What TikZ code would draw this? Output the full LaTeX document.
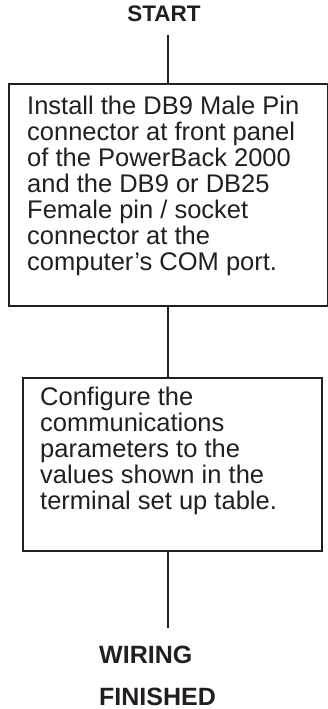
\documentclass[tikz,border=0pt]{standalone}
\usepackage{fontspec}
\setmainfont{Liberation Sans}
\definecolor{ink}{HTML}{231F20}
\begin{document}
\begin{tikzpicture}[x=1pt,y=-1pt,
  box/.style={draw=ink, line width=2.2pt, inner sep=0pt, anchor=north west},
  body/.style={anchor=north west, inner sep=0pt, align=left, text=ink,
    font=\fontsize{25.5}{26}\selectfont},
  term/.style={inner sep=0pt, text=ink, font=\bfseries\fontsize{25}{26}\selectfont},
  link/.style={draw=ink, line width=2pt}]
\useasboundingbox (0,0) rectangle (328,709);
\node[box, minimum width=319.5pt, minimum height=222pt] (b1) at (7.5,83) {};
\node[box, minimum width=299pt, minimum height=173pt] (b2) at (21.7,377) {};
\node[body] (t1) at (27,95.6) {Install the DB9 Male Pin\\connector at front panel\\of the PowerBack 2000\\and the DB9 or DB25\\Female pin / socket\\connector at the\\computer’s COM port.};
\node[body] (t2) at (40,387.3) {Configure the\\communications\\parameters to the\\values shown in the\\terminal set up table.};
\node[term, anchor=base, font=\bfseries\fontsize{22.5}{26}\selectfont] (start) at (164,22) {START};
\node[term, anchor=base west] (wiring) at (99,663) {WIRING};
\node[term, anchor=base west] (finished) at (99,705) {FINISHED};
\coordinate (endpt) at (168,628);
\draw[link] ([yshift=-13pt]start.south -| b1.south) -- (b1.north);
\draw[link] (b1.south) -- (b1.south |- b2.north);
\draw[link] (b1.south |- b2.south) -- (b1.south |- endpt);
\end{tikzpicture}
\end{document}
